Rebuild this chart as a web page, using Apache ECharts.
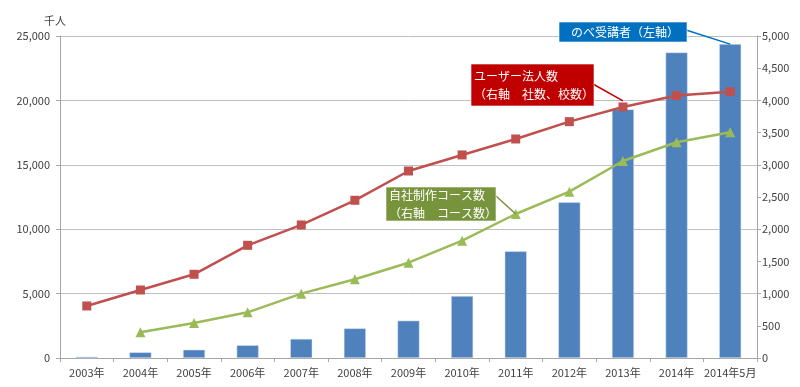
<!DOCTYPE html>
<html><head><meta charset="utf-8">
<script src="https://cdn.jsdelivr.net/npm/echarts@6/dist/echarts.min.js"></script>
<style>html,body{margin:0;padding:0;background:#fff}#c{width:800px;height:387px}</style>
</head><body><div id="c"></div>
<script>
const categories = ['2003年','2004年','2005年','2006年','2007年','2008年','2009年','2010年','2011年','2012年','2013年','2014年','2014年5月'];
const attendees = [100, 440, 640, 990, 1480, 2300, 2900, 4810, 8280, 12100, 19300, 23720, 24370];
const corporateUsers = [808, 1056, 1300, 1750, 2066, 2449, 2904, 3153, 3401, 3670, 3898, 4075, 4136];
const courses = [null, 399, 543, 709, 999, 1222, 1480, 1822, 2236, 2583, 3059, 3350, 3505];
const leftTicks = {min: 0, max: 25000, interval: 5000};
const rightTicks = {min: 0, max: 5000, interval: 500};

const FONT = '"Noto Sans CJK JP", "Noto Sans", sans-serif';
const chart = echarts.init(document.getElementById('c'), null, {renderer: 'canvas'});
const axisLbl = {color: '#404040', fontSize: 11, fontFamily: FONT};
chart.setOption({
  animation: false,
  backgroundColor: '#fff',
  grid: {left: 60, right: 43, top: 36, bottom: 29, containLabel: false},
  xAxis: {
    type: 'category', data: categories, boundaryGap: true,
    axisLine: {lineStyle: {color: '#A6A6A6'}},
    axisTick: {show: true, alignWithLabel: false, length: 4, lineStyle: {color: '#A6A6A6'}},
    axisLabel: Object.assign({margin: 9, interval: 0}, axisLbl)
  },
  yAxis: [
    {type: 'value', min: leftTicks.min, max: leftTicks.max, interval: leftTicks.interval,
     axisLine: {show: true, lineStyle: {color: '#A6A6A6'}},
     axisTick: {show: true, length: 4, lineStyle: {color: '#A6A6A6'}},
     splitLine: {lineStyle: {color: '#BFBFBF', width: 1}},
     axisLabel: Object.assign({margin: 10, formatter: v => v.toLocaleString('en-US')}, axisLbl)},
    {type: 'value', min: rightTicks.min, max: rightTicks.max, interval: rightTicks.interval,
     axisLine: {show: true, lineStyle: {color: '#A6A6A6'}},
     axisTick: {show: true, length: 4, lineStyle: {color: '#A6A6A6'}},
     splitLine: {show: false},
     axisLabel: Object.assign({margin: 5, formatter: v => v.toLocaleString('en-US')}, axisLbl)}
  ],
  series: [
    {name: 'のべ受講者', type: 'bar', yAxisIndex: 0, data: attendees, barWidth: 22,
     itemStyle: {color: '#4F81BD', borderColor: '#DCE6F2', borderWidth: 0.5}},
    {name: 'ユーザー法人数', type: 'line', yAxisIndex: 1, data: corporateUsers,
     symbol: 'rect', symbolSize: 9, lineStyle: {color: '#C0504D', width: 2.5},
     itemStyle: {color: '#C0504D'}},
    {name: '自社制作コース数', type: 'line', yAxisIndex: 1, data: courses,
     symbol: 'triangle', symbolSize: 10, lineStyle: {color: '#9BBB59', width: 2.5},
     itemStyle: {color: '#9BBB59'}}
  ]
});

function px(seriesIndex, idx, val) {
  return chart.convertToPixel({seriesIndex: seriesIndex}, [idx, val]);
}
const pBlue = px(0, 12, attendees[12]);
const pRed = px(1, 10, corporateUsers[10]);
const pGreen = px(2, 8, courses[8]);

function box(x, y, w, h, color, lines, tx) {
  const els = [{type: 'rect', shape: {x: x, y: y, width: w, height: h},
    style: {fill: color, stroke: 'rgba(255,255,255,0.6)', lineWidth: 1}, z: 10}];
  els.push({type: 'text', x: x + (tx || 6), y: y + h / 2, z: 11,
    style: {text: lines.join('\n'), fill: '#fff', font: '12px ' + FONT, lineHeight: 18, verticalAlign: 'middle', textAlign: 'left'}});
  return els;
}
const g = [];
g.push({type: 'line', shape: {x1: 686, y1: 30, x2: pBlue[0], y2: pBlue[1]}, style: {stroke: '#0070C0', lineWidth: 1.5}, z: 9});
g.push({type: 'line', shape: {x1: 593, y1: 84, x2: pRed[0], y2: pRed[1] - 6}, style: {stroke: '#C00000', lineWidth: 1.5}, z: 9});
g.push({type: 'line', shape: {x1: 496, y1: 196, x2: pGreen[0], y2: pGreen[1]}, style: {stroke: '#77933C', lineWidth: 1.5}, z: 9});
g.push(...box(559, 22, 128, 20, '#0070C0', ['のべ受講者（左軸）'], 12));
g.push(...box(471, 64, 123, 42, '#C00000', ['ユーザー法人数', '（右軸　社数、校数）'], 3));
g.push(...box(386, 187, 110, 34, '#77933C', ['自社制作コース数', '（右軸　コース数）'], 3));
g.push({type: 'text', x: 44, y: 15, style: {text: '千人', fill: '#404040', font: '11px ' + FONT}});
chart.setOption({graphic: g});
</script></body></html>
